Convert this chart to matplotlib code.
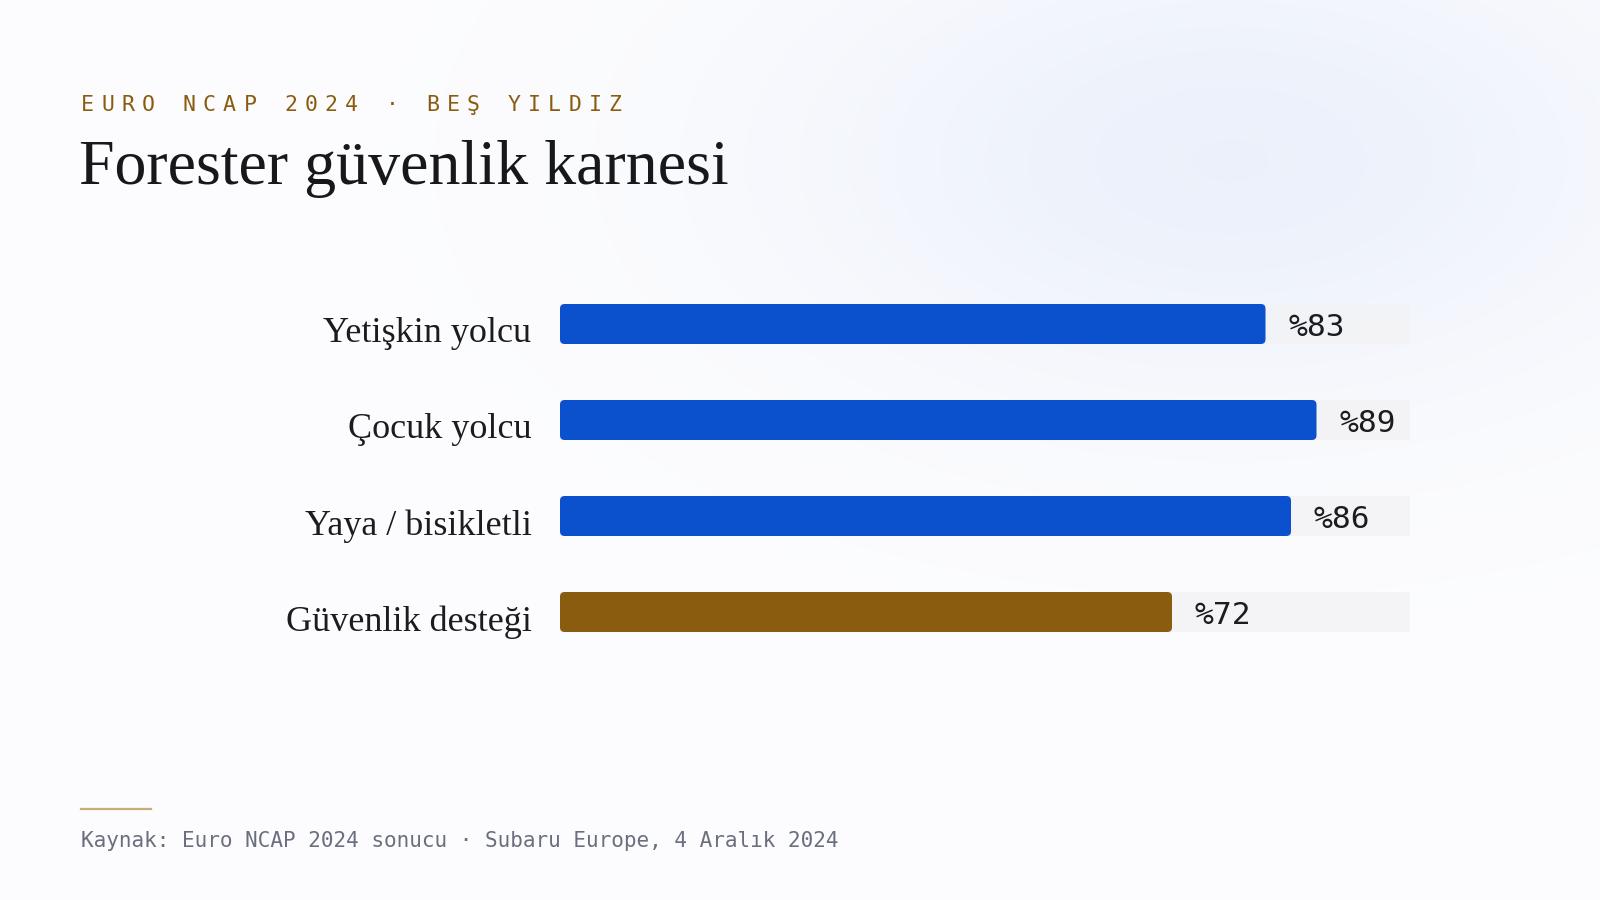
import numpy as np
import matplotlib.pyplot as plt
import matplotlib.transforms as mtransforms
from matplotlib.patches import FancyBboxPatch

categories = ['Yetişkin yolcu', 'Çocuk yolcu', 'Yaya / bisikletli', 'Güvenlik desteği']
scores = [83, 89, 86, 72]
bar_colors = ['#0b50cc', '#0b50cc', '#0b50cc', '#8a5c10']
value_labels = ['%83', '%89', '%86', '%72']

kicker = 'EURO NCAP 2024 · BEŞ YILDIZ'
title = 'Forester güvenlik karnesi'
source = 'Kaynak: Euro NCAP 2024 sonucu · Subaru Europe, 4 Aralık 2024'

W, H = 1600, 900
fig = plt.figure(figsize=(16, 9), dpi=100)

# soft background with a bluish glow top right
bg = fig.add_axes([0, 0, 1, 1])
yy, xx = np.mgrid[0:H, 0:W]
d = np.sqrt(((xx - 1230) / 420.0) ** 2 + ((yy - 160) / 230.0) ** 2)
glow = np.exp(-d ** 2 * 0.9)
base = np.array([0.99, 0.99, 0.997])
tint = np.array([0.925, 0.945, 0.984])
img = base[None, None, :] * (1 - glow[..., None]) + tint[None, None, :] * glow[..., None]
bg.imshow(img, extent=[0, W, H, 0], aspect='auto')
bg.set_xlim(0, W)
bg.set_ylim(H, 0)
bg.axis('off')

# header
mono = 'DejaVu Sans Mono'
x = 81
step = 20.3
for ch in kicker:
    bg.text(x, 105, ch, family=mono, fontsize=15.5, color='#8a5c10', va='center', ha='left')
    x += step
bg.text(79, 169, title, family='Liberation Serif', fontsize=46, color='#17181c', va='center', ha='left')

# footer
bg.plot([81, 151], [809, 809], color='#c9ab7c', lw=1.6)
bg.text(81, 841, source, family=mono, fontsize=15.1, color='#6a6e7e', va='center', ha='left')

# bars
ax = fig.add_axes([560 / W, 1 - 660 / H, 850 / W, 384 / H])
ax.patch.set_alpha(0)
y = np.arange(len(categories))
bh = 40 / 96
ax.barh(y, [100] * len(categories), height=bh, color='#f3f3f5', alpha=0.85, zorder=1)
asp = 8.5 / 96
down = mtransforms.ScaledTranslation(0, -3 / 100, fig.dpi_scale_trans)
for yi, v, c in zip(y, scores, bar_colors):
    ax.add_patch(FancyBboxPatch((0, yi - bh / 2), v, bh,
                                boxstyle='round,pad=0,rounding_size=0.55',
                                mutation_aspect=asp, fc=c, ec='none', zorder=2))
    ax.text(v + 2.7, yi, value_labels[yi], family=mono, fontsize=22.5,
            color='#1b1c20', va='center', ha='left', zorder=3,
            transform=ax.transData + down)
ax.set_xlim(0, 100)
ax.set_ylim(3.5, -0.5)
ax.set_yticks(y)
ax.set_yticklabels(categories, family='Liberation Serif', fontsize=26, color='#1b1c20')
ax.tick_params(axis='y', length=0, pad=20.5)
shift = mtransforms.ScaledTranslation(0, -6 / 100, fig.dpi_scale_trans)
for lab in ax.get_yticklabels():
    lab.set_transform(lab.get_transform() + shift)
ax.set_xticks([])
for s in ax.spines.values():
    s.set_visible(False)

fig.savefig('out.png', dpi=100)
